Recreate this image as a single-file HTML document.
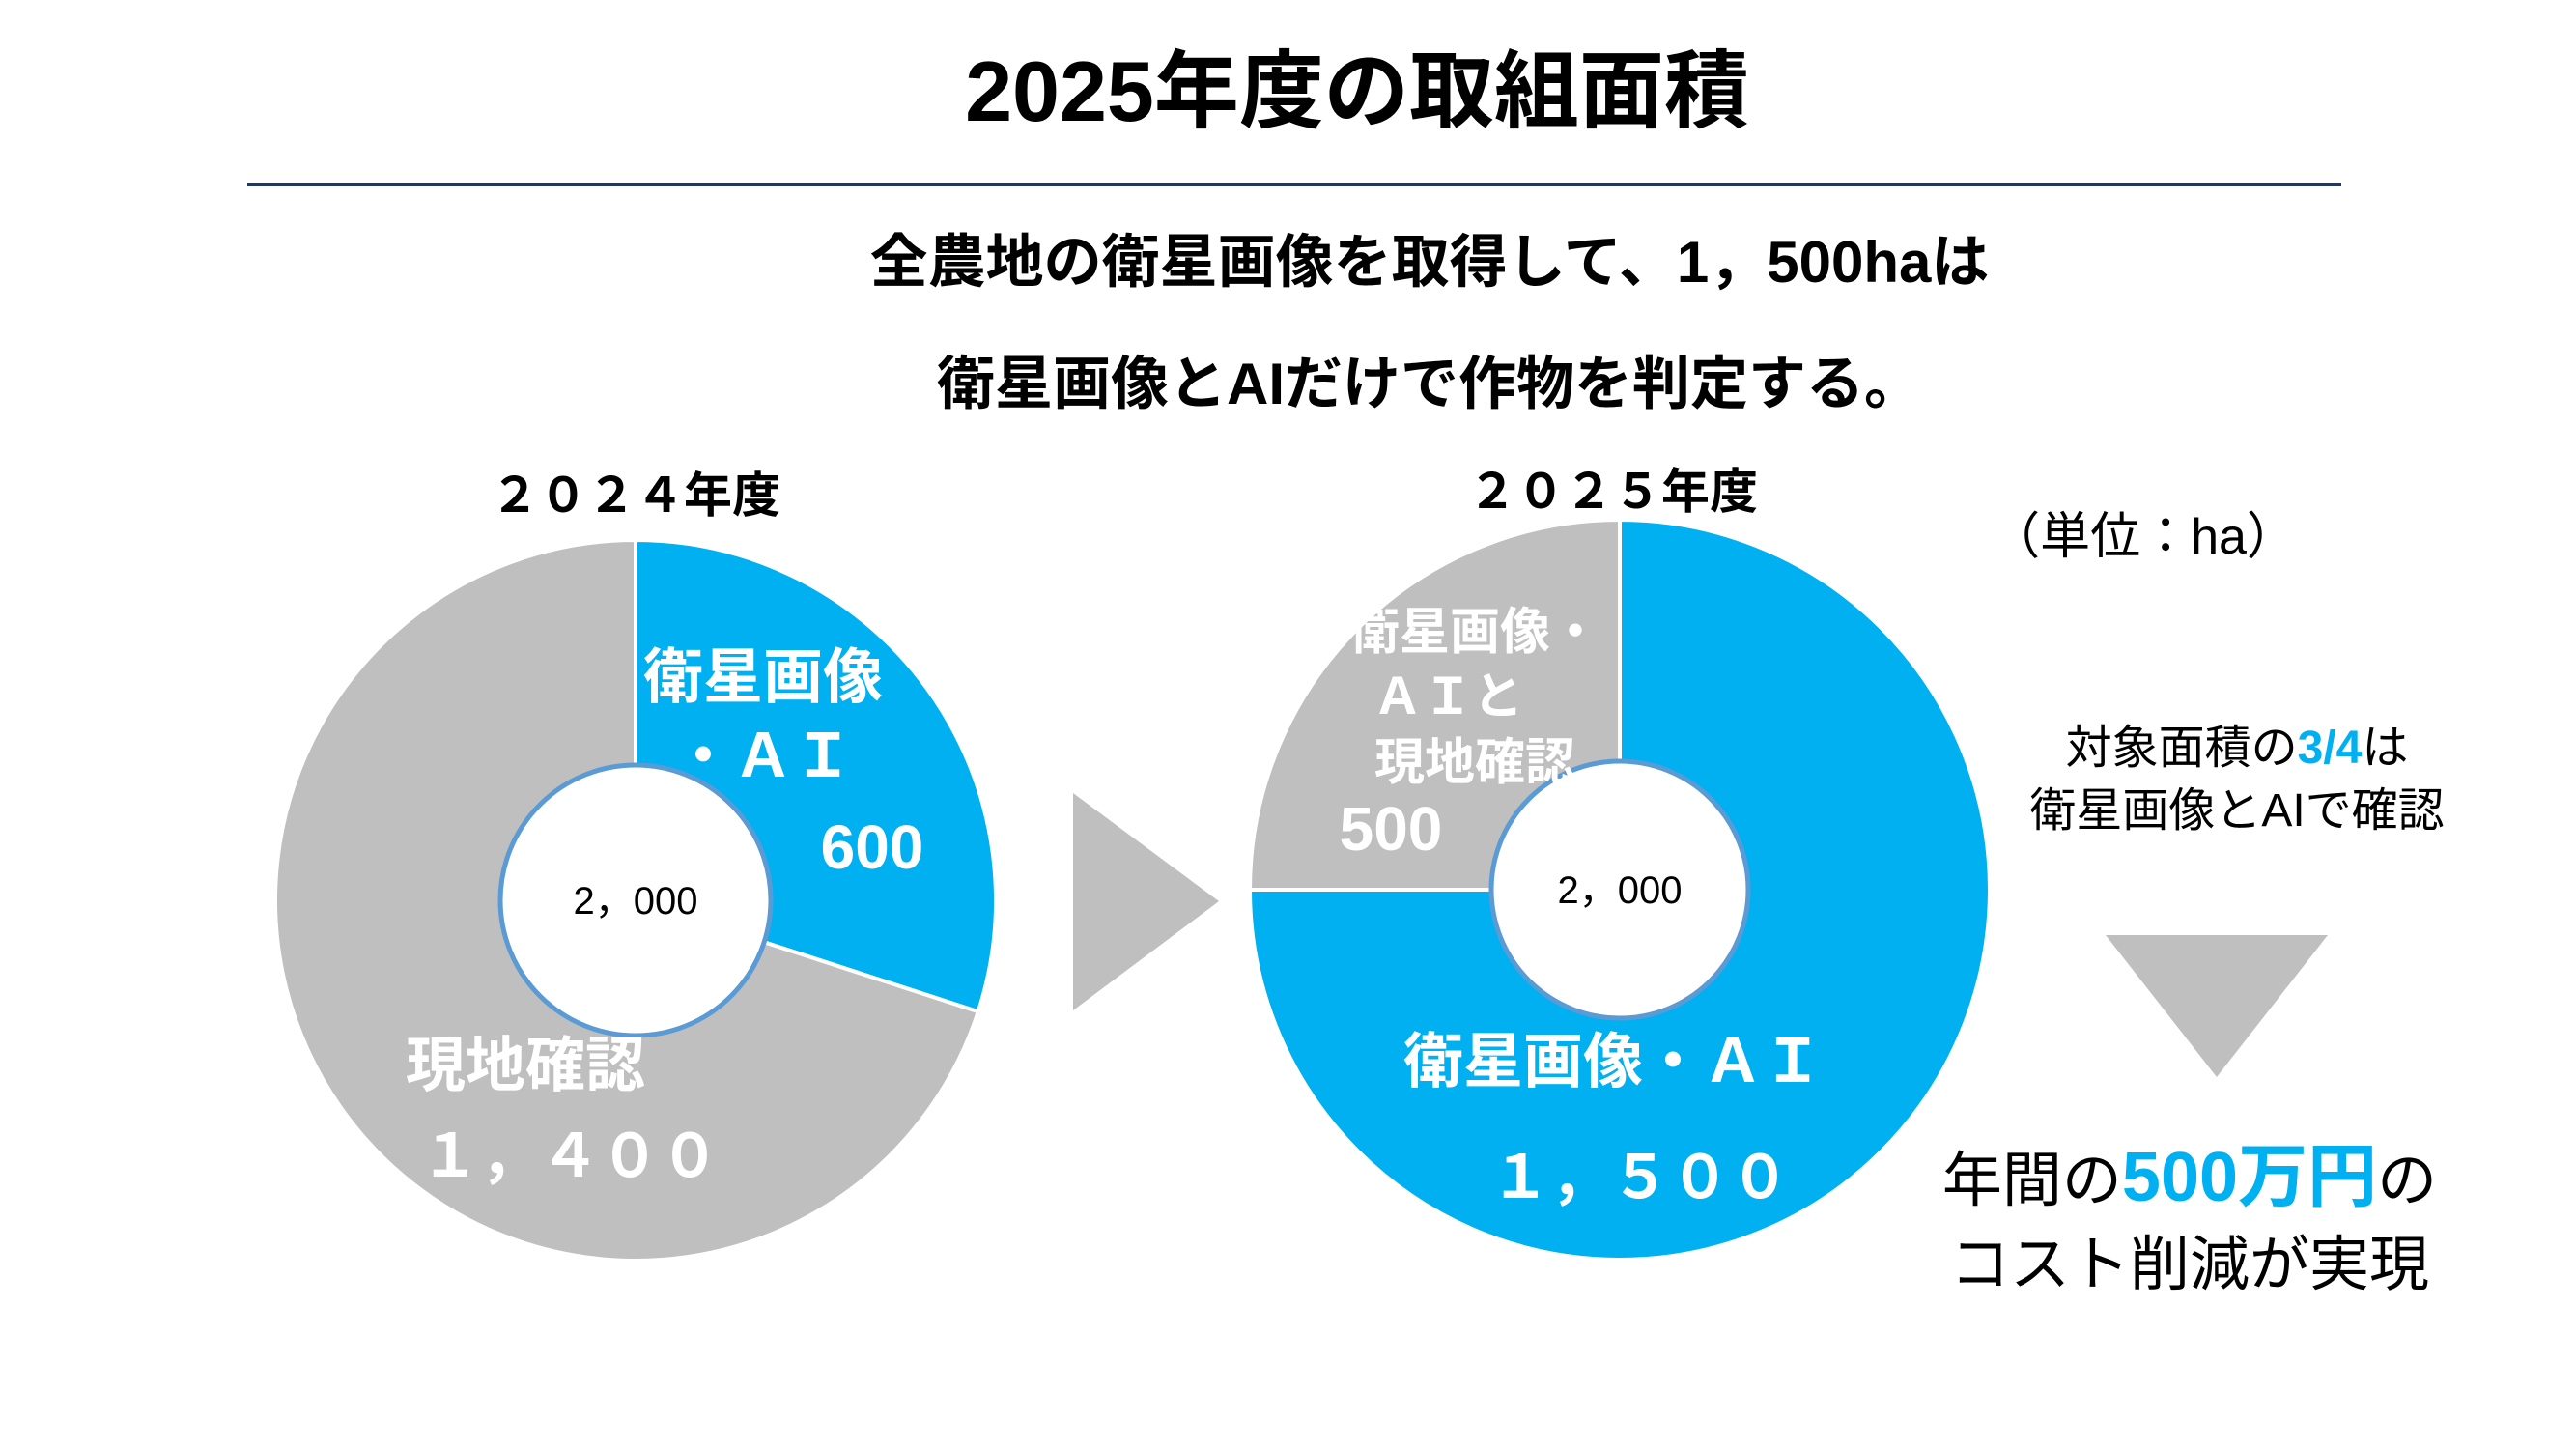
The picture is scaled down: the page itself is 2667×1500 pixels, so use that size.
<!DOCTYPE html>
<html><head><meta charset="utf-8"><style>
html,body{margin:0;padding:0;background:#fff;}
svg{display:block;font-family:"Liberation Sans","Noto Sans CJK JP",sans-serif;}
</style></head><body>
<svg id="chart" width="2667" height="1500" viewBox="0 0 2667 1500" xmlns="http://www.w3.org/2000/svg">
<rect width="2667" height="1500" fill="#fff"/>
<text x="1405" y="125" text-anchor="middle" font-size="88" font-weight="bold" fill="#000">2025年度の取組面積</text>
<line x1="256" y1="191" x2="2424" y2="191" stroke="#1F3864" stroke-width="4"/>
<text x="1480" y="292" text-anchor="middle" font-size="60" font-weight="bold" fill="#000">全農地の衛星画像を取得して、1，500haは</text>
<text x="1480" y="418" text-anchor="middle" font-size="60" font-weight="bold" fill="#000">衛星画像とAIだけで作物を判定する。</text>
<text x="658" y="530" text-anchor="middle" font-size="50" font-weight="bold" fill="#000">２０２４年度</text>
<text x="1670" y="526" text-anchor="middle" font-size="50" font-weight="bold" fill="#000">２０２５年度</text>
<text x="2219" y="573" text-anchor="middle" font-size="52" fill="#000">（単位：ha）</text>
<g id="pies"></g>
<polygon points="1111,821 1262,933 1111,1046" fill="#BFBFBF"/>
<polygon points="2180,968 2410,968 2295,1115" fill="#BFBFBF"/>
<text x="2316" y="790" text-anchor="middle" font-size="48" fill="#000">対象面積の<tspan fill="#00B0F0" font-weight="bold">3/4</tspan>は</text>
<text x="2316" y="855" text-anchor="middle" font-size="48" fill="#000">衛星画像とAIで確認</text>
<text x="2267" y="1243" text-anchor="middle" font-size="62" fill="#000">年間の<tspan fill="#00B0F0" font-weight="bold" font-size="72">500万円</tspan>の</text>
<text x="2267" y="1330" text-anchor="middle" font-size="62" fill="#000">コスト削減が実現</text>
</svg>
<script>
const pie2024Categories = ["衛星画像・AI", "現地確認"];
const pie2024Values = [600, 1400];
const pie2025Categories = ["衛星画像・AI", "現地確認"];
const pie2025Values = [1500, 500];
const totalLabels = ["2，000", "2，000"];

const NS = "http://www.w3.org/2000/svg";
const colors = ["#00B0F0", "#BFBFBF"];
const g = document.getElementById("pies");
function angleScale(v, total){ return v / total * Math.PI * 2; }
function pt(cx, cy, r, a){ return [cx + r * Math.sin(a), cy - r * Math.cos(a)]; }
function drawPie(name, cx, cy, r, hole, values, totalLabel){
  const total = values.reduce((a,b)=>a+b,0);
  let a0 = 0;
  values.forEach((v,i)=>{
    const a1 = a0 + angleScale(v,total);
    const p0 = pt(cx,cy,r,a0), p1 = pt(cx,cy,r,a1);
    const large = (a1-a0) > Math.PI ? 1 : 0;
    const path = document.createElementNS(NS,"path");
    path.setAttribute("d",`M${cx},${cy} L${p0[0]},${p0[1]} A${r},${r} 0 ${large} 1 ${p1[0]},${p1[1]} Z`);
    path.setAttribute("fill",colors[i]);
    path.setAttribute("stroke","#fff");
    path.setAttribute("stroke-width","4");
    
    
    g.appendChild(path);
    a0 = a1;
  });
  const c = document.createElementNS(NS,"circle");
  c.setAttribute("cx",cx); c.setAttribute("cy",cy); c.setAttribute("r",hole);
  c.setAttribute("fill","#fff"); c.setAttribute("stroke","#5B9BD5"); c.setAttribute("stroke-width","5");
  
  
  g.appendChild(c);
  const t = document.createElementNS(NS,"text");
  t.setAttribute("x",cx); t.setAttribute("y",cy+14); t.setAttribute("text-anchor","middle");
  t.setAttribute("font-size","40"); t.textContent = totalLabel;
  
  
  g.appendChild(t);
}
drawPie("pie-2024", 658, 932, 373, 140, pie2024Values, totalLabels[0]);
drawPie("pie-2025", 1677, 921, 383, 133, pie2025Values, totalLabels[1]);
function label(name, x, y, size, txt){
  const t = document.createElementNS(NS,"text");
  t.setAttribute("x",x); t.setAttribute("y",y); t.setAttribute("text-anchor","middle");
  t.setAttribute("font-size",size); t.setAttribute("font-weight","bold"); t.setAttribute("fill","#fff");
  t.textContent = txt;
  
  
  g.appendChild(t);
}
label("pie-2024-blue-label-1",790,722,62,"衛星画像");
label("pie-2024-blue-label-2",790,804,62,"・ＡＩ");
label("pie-2024-blue-value",903,899,64,String(pie2024Values[0]));
label("pie-2024-gray-label",544,1124,62,"現地確認");
label("pie-2024-gray-value",590,1218,62,"１，４００");
label("pie-2025-gray-label-1",1527,672,52,"衛星画像・");
label("pie-2025-gray-label-2",1499,739,52,"ＡＩと");
label("pie-2025-gray-label-3",1527,807,52,"現地確認");
label("pie-2025-gray-value",1440,880,64,String(pie2025Values[1]));
label("pie-2025-blue-label",1670,1120,62,"衛星画像・ＡＩ");
label("pie-2025-blue-value",1698,1240,62,"１，５００");
</script>
</body></html>
